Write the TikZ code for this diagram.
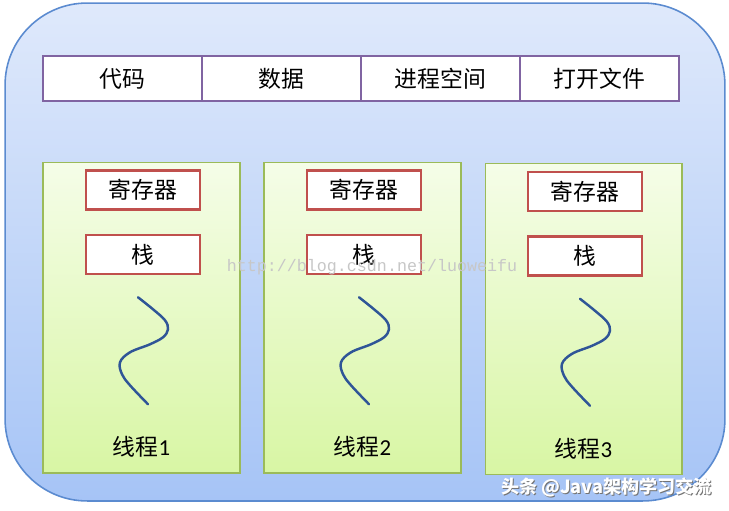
\documentclass[tikz,border=0pt]{standalone}
\usepackage{fontspec}
\setmainfont{Carlito}
\newfontfamily\cjk{Noto Sans CJK SC}
\newfontfamily\monowm{Liberation Mono}
\usetikzlibrary{positioning,calc}

\definecolor{procblue}{RGB}{91,139,208}
\definecolor{proctop}{RGB}{223,233,251}
\definecolor{procbot}{RGB}{166,196,246}
\definecolor{cellpurple}{RGB}{128,100,162}
\definecolor{regred}{RGB}{192,80,77}
\definecolor{thrgreen}{RGB}{155,187,89}
\definecolor{thrtop}{RGB}{245,253,232}
\definecolor{thrbot}{RGB}{216,246,164}
\definecolor{wavyblue}{RGB}{47,85,151}

\tikzset{
  proc/.style={draw=procblue, line width=0.9pt, top color=proctop, bottom color=procbot,
    rounded corners=1.64cm, minimum width=14.4cm, minimum height=9.96cm},
  cell/.style={draw=cellpurple, line width=1.3pt, fill=white, minimum width=3.18cm,
    minimum height=0.9cm, outer sep=0pt, font=\cjk\fontsize{13}{15}\selectfont},
  thread/.style={draw=thrgreen, line width=0.6pt, top color=thrtop, bottom color=thrbot,
    minimum width=3.94cm, minimum height=6.22cm, outer sep=0pt},
  regbox/.style={draw=regred, line width=1.5pt, fill=white, minimum width=2.28cm,
    minimum height=0.78cm, font=\cjk\fontsize{13}{15}\selectfont},
  wavy/.style={draw=wavyblue, line width=1.4pt, line cap=round},
}

\begin{document}
\begin{tikzpicture}[x=0.02cm, y=-0.02cm]
    \useasboundingbox (0,0) rectangle (729,510);

    % Processus
    \node[proc] (process) at (365,252) {};

    % Ressources partagees
    \node[cell] (code) at (122.5,78.5) {代码};
    \node[cell, right=0pt of code] (data) {数据};
    \node[cell, right=0pt of data] (space) {进程空间};
    \node[cell, right=0pt of space] (files) {打开文件};

    % Threads
    \foreach \i/\x/\y in {1/141.5/317.5, 2/362.5/317.5, 3/583.5/319} {
        \node[thread] (thread\i) at (\x,\y) {};
        \node[regbox, below=0.14cm of thread\i.north, xshift=0.03cm] (reg\i) {寄存器};
        \node[regbox, below=0.46cm of reg\i] (stack\i) {栈};
        \draw[wavy, shift={(stack\i.south)}] plot[smooth, tension=0.6] coordinates
            {(-5,22) (10,34) (22,45) (25,54) (20,62) (7,69) (-13,77) (-23,87) (-21,99) (-13,110) (5,129)};
        \node[font=\fontsize{13}{15}\selectfont] (label\i) at ([yshift=0.52cm]thread\i.south) {{\cjk 线程}\i};
    }

    % Filigranes
    \node[text=black!22, font=\monowm\fontsize{9.5}{11}\selectfont] (wmark) at (372,267)
        {http://blog.csdn.net/luoweifu};
    \node[text=black!55, font=\cjk\bfseries\fontsize{10.3}{12}\selectfont] (creditshadow) at (607.5,488.5)
        {头条 @Java架构学习交流};
    \node[text=white, font=\cjk\bfseries\fontsize{10.3}{12}\selectfont] (credit) at (606.5,487.5)
        {头条 @Java架构学习交流};
\end{tikzpicture}
\end{document}
